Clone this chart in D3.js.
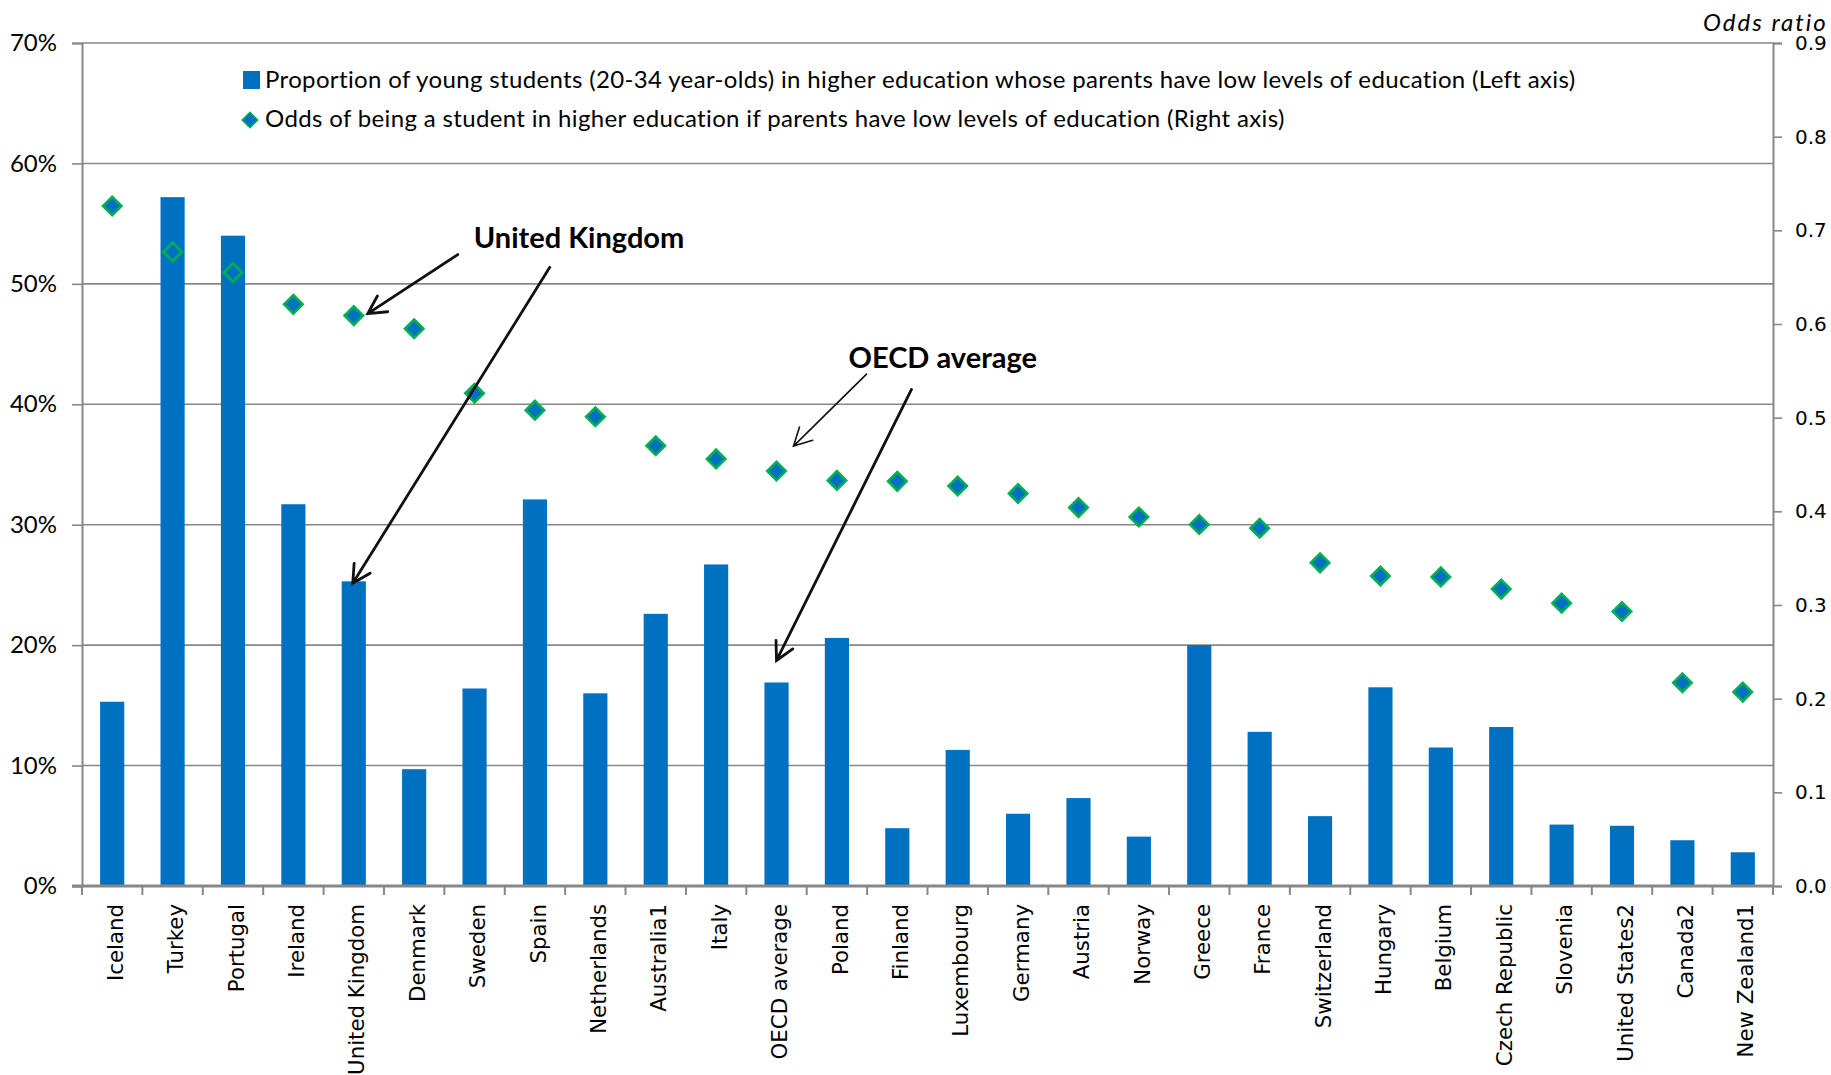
<!DOCTYPE html>
<html>
<head>
<meta charset="utf-8">
<script src="https://cdn.jsdelivr.net/npm/d3@7"></script>
<style>
  html, body { margin: 0; padding: 0; background: #ffffff; }
  svg { display: block; }
</style>
</head>
<body>
<svg id="chart" width="1831" height="1075"></svg>
<script>
// Countries, ordered by the odds ratio
const countries = ["Iceland", "Turkey", "Portugal", "Ireland", "United Kingdom", "Denmark", "Sweden",
  "Spain", "Netherlands", "Australia1", "Italy", "OECD average", "Poland", "Finland", "Luxembourg",
  "Germany", "Austria", "Norway", "Greece", "France", "Switzerland", "Hungary", "Belgium",
  "Czech Republic", "Slovenia", "United States2", "Canada2", "New Zealand1"];

// Share (%) of young students in higher education whose parents have low education
const proportion = [15.3, 57.2, 54.0, 31.7, 25.3, 9.7, 16.4, 32.1, 16.0, 22.6, 26.7, 16.9, 20.6, 4.8,
  11.3, 6.0, 7.3, 4.1, 20.0, 12.8, 5.8, 16.5, 11.5, 13.2, 5.1, 5.0, 3.8, 2.8];

// Odds of being a student in higher education if parents have low education
const oddsRatio = [0.726, 0.677, 0.655, 0.621, 0.609, 0.595, 0.526, 0.508, 0.501, 0.470, 0.456, 0.443,
  0.433, 0.432, 0.427, 0.419, 0.404, 0.394, 0.386, 0.382, 0.345, 0.331, 0.330, 0.317, 0.302, 0.293,
  0.217, 0.207];

// Axis ticks
const leftTicks = [0, 10, 20, 30, 40, 50, 60, 70];
const rightTicks = [0, 0.1, 0.2, 0.3, 0.4, 0.5, 0.6, 0.7, 0.8, 0.9];

const legendLabels = [
  "Proportion of young students (20-34 year-olds) in higher education whose parents have low levels of education (Left axis)",
  "Odds of being a student in higher education if parents have low levels of education (Right axis)"
];

const BLUE = "#0070c0";
const GREEN = "#00b050";
const GRID = "#878787";

const svg = d3.select("#chart");
const plotLeft = 82, plotRight = 1773, plotTop = 43, plotBottom = 886;

const x = d3.scaleBand().domain(countries).range([plotLeft, plotRight]).paddingInner(0.6).paddingOuter(0.3);
const yL = d3.scaleLinear().domain([0, 70]).range([plotBottom, plotTop]);
const yR = d3.scaleLinear().domain([0, 0.9]).range([plotBottom, plotTop]);

// Horizontal gridlines at the left-axis ticks
svg.append("g")
  .selectAll("line")
  .data(leftTicks.filter(t => t > 0))
  .join("line")
  .attr("x1", plotLeft).attr("x2", plotRight)
  .attr("y1", d => yL(d)).attr("y2", d => yL(d))
  .attr("stroke", GRID).attr("stroke-width", 1.6);

// Left axis
const axL = svg.append("g")
  .attr("transform", `translate(${plotLeft},0)`)
  .call(d3.axisLeft(yL).tickValues(leftTicks).tickFormat(d => d + "%").tickSize(10).tickPadding(15));
axL.select(".domain").attr("stroke", GRID).attr("stroke-width", 2);
axL.selectAll(".tick line").attr("stroke", GRID).attr("stroke-width", 1.6);
axL.selectAll(".tick text")
  .attr("font-family", "Lato, sans-serif").attr("font-size", 24).attr("fill", "#000");

// Right axis
const axR = svg.append("g")
  .attr("transform", `translate(${plotRight},0)`)
  .call(d3.axisRight(yR).tickValues(rightTicks).tickFormat(d3.format(".1f")).tickSize(9).tickPadding(13));
axR.select(".domain").attr("stroke", GRID).attr("stroke-width", 2);
axR.selectAll(".tick line").attr("stroke", GRID).attr("stroke-width", 1.6);
axR.selectAll(".tick text")
  .attr("font-family", "'DejaVu Sans', sans-serif").attr("font-size", 20).attr("fill", "#000");

// Right axis title (sits just above the top tick label)
svg.append("text")
  .attr("x", 1703).attr("y", 31)
  .attr("font-family", "Lato, sans-serif").attr("font-style", "italic").attr("font-size", 24)
  .attr("letter-spacing", 2)
  .attr("fill", "#000")
  .text("Odds ratio");

// Bars
svg.append("g")
  .selectAll("rect")
  .data(countries)
  .join("rect")
  .attr("x", d => x(d))
  .attr("width", x.bandwidth())
  .attr("y", (d, i) => yL(proportion[i]))
  .attr("height", (d, i) => yL(0) - yL(proportion[i]))
  .attr("fill", BLUE);

// Bottom axis: labels at the band centres, ticks at the band boundaries
const axB = svg.append("g")
  .attr("transform", `translate(0,${plotBottom})`)
  .call(d3.axisBottom(x).tickSize(0).tickPadding(0));
axB.select(".domain").remove();
axB.selectAll(".tick text")
  .attr("font-family", "'DejaVu Sans', sans-serif").attr("font-size", 21.3).attr("fill", "#000")
  .attr("text-anchor", "end")
  .attr("transform", "rotate(-90)")
  .attr("x", -18).attr("y", 0).attr("dy", "0.5em");

const gap = (x.step() - x.bandwidth()) / 2;
const boundaries = countries.map(c => x(c) - gap).concat([x(countries[countries.length - 1]) + x.bandwidth() + gap]);
svg.append("g")
  .selectAll("line")
  .data(boundaries)
  .join("line")
  .attr("x1", d => d).attr("x2", d => d)
  .attr("y1", plotBottom).attr("y2", plotBottom + 9)
  .attr("stroke", GRID).attr("stroke-width", 2);
svg.append("line")
  .attr("x1", plotLeft - 10).attr("x2", plotRight)
  .attr("y1", plotBottom).attr("y2", plotBottom)
  .attr("stroke", GRID).attr("stroke-width", 2.8);

// Odds-ratio markers
const diamond = d3.symbol().type(d3.symbolSquare).size(170);
svg.append("g")
  .selectAll("path")
  .data(countries)
  .join("path")
  .attr("d", diamond)
  .attr("transform", (d, i) => `translate(${x(d) + x.bandwidth() / 2},${yR(oddsRatio[i])}) rotate(45)`)
  .attr("fill", BLUE)
  .attr("stroke", GREEN)
  .attr("stroke-width", 2.6);

// Legend
const lg = svg.append("g");
lg.append("rect").attr("x", 243).attr("y", 71).attr("width", 17).attr("height", 18).attr("fill", BLUE);
lg.append("path")
  .attr("d", d3.symbol().type(d3.symbolSquare).size(120))
  .attr("transform", "translate(250,120) rotate(45)")
  .attr("fill", BLUE).attr("stroke", GREEN).attr("stroke-width", 1.5);
lg.selectAll("text")
  .data(legendLabels)
  .join("text")
  .attr("x", 265)
  .attr("y", (d, i) => i === 0 ? 87.5 : 127)
  .attr("font-family", "Lato, sans-serif").attr("font-size", 24).attr("letter-spacing", 0.35)
  .attr("fill", "#000")
  .text(d => d);

// Annotations: labels with arrows pointing at the marks
function arrow(g, tip, tail, width) {
  const dx = tail[0] - tip[0], dy = tail[1] - tip[1];
  const ang = Math.atan2(dy, dx);
  const len = 20, spread = 28 * Math.PI / 180;
  const w1 = [tip[0] + len * Math.cos(ang - spread), tip[1] + len * Math.sin(ang - spread)];
  const w2 = [tip[0] + len * Math.cos(ang + spread), tip[1] + len * Math.sin(ang + spread)];
  g.append("path")
    .attr("d", `M${tail[0]},${tail[1]}L${tip[0]},${tip[1]}M${w1[0]},${w1[1]}L${tip[0]},${tip[1]}L${w2[0]},${w2[1]}`)
    .attr("fill", "none").attr("stroke", "#111").attr("stroke-width", width)
    .attr("stroke-linecap", "round").attr("stroke-linejoin", "miter");
}

const ann = svg.append("g");
const uk = countries.indexOf("United Kingdom");
const oecd = countries.indexOf("OECD average");
const cx = name => x(name) + x.bandwidth() / 2;

ann.append("text")
  .attr("x", cx("United Kingdom") + 120).attr("y", 248)
  .attr("font-family", "Lato, sans-serif").attr("font-weight", "bold").attr("font-size", 29)
  .attr("fill", "#000").text("United Kingdom");
ann.append("text")
  .attr("x", cx("OECD average") + 72).attr("y", 368)
  .attr("font-family", "Lato, sans-serif").attr("font-weight", "bold").attr("font-size", 29)
  .attr("fill", "#000").text("OECD average");

{
  const tipM = [cx("United Kingdom") + 14, yR(oddsRatio[uk]) - 2];
  arrow(ann, tipM, [tipM[0] + 90, tipM[1] - 59], 2.8);
  const tipB = [cx("United Kingdom") - 1, yL(proportion[uk]) + 2];
  arrow(ann, tipB, [tipB[0] + 197, tipB[1] - 316], 2.8);
  const tipO = [cx("OECD average") + 17, yR(oddsRatio[oecd]) - 25];
  arrow(ann, tipO, [tipO[0] + 73, tipO[1] - 72], 1.6);
  const tipOB = [cx("OECD average"), yL(proportion[oecd]) - 22];
  arrow(ann, tipOB, [tipOB[0] + 135, tipOB[1] - 271], 2.8);
}
</script>
</body>
</html>
